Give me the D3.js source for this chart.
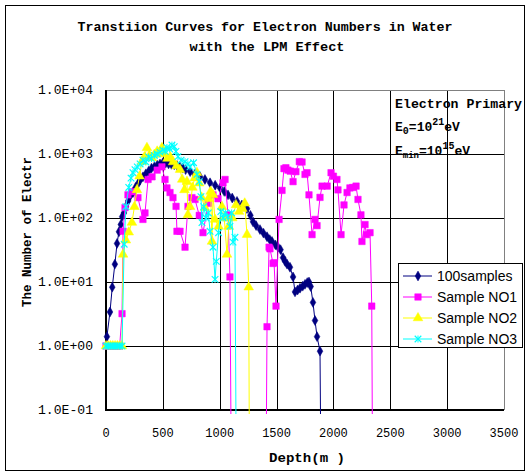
<!DOCTYPE html>
<html><head><meta charset="utf-8">
<script src="https://cdn.jsdelivr.net/npm/d3@7"></script>
<style>body{margin:0;background:#fff}svg{display:block}</style>
</head><body>
<svg id="c" width="526" height="473"></svg>
<script>
const titleLines = ["Transtiion Curves for Electron Numbers in Water", "with the LPM Effect"];
const xTicks = [0, 500, 1000, 1500, 2000, 2500, 3000, 3500];
const yTicks = [0.1, 1, 10, 100, 1000, 10000];
const yTickLabels = ["1.0E-01", "1.0E+00", "1.0E+01", "1.0E+02", "1.0E+03", "1.0E+04"];
const seriesNames = ["100samples", "Sample NO1", "Sample NO2", "Sample NO3"];

const depth100 = [8,35,55,78,97,114,130,142,158,175,195,215,237,260,280,300,325,350,375,400,425,450,475,500,525,550,575,600,625,650,675,700,740,780,827,870,915,960,1003,1040,1073,1110,1152,1195,1240,1270,1293,1320,1354,1385,1416,1440,1460,1490,1513,1535,1557,1575,1592,1618,1645,1662,1685,1706,1730,1750,1770,1785,1800,1820,1838,1856,1882,1900];
const val100 = [1.4,3.4,8.3,19,40,61,79,105,120,150,185,225,250,300,340,390,440,490,540,600,630,670,700,730,720,700,690,680,660,630,600,570,530,480,440,400,355,325,295,260,230,205,182,160,140,110,87,76,66,58,51,46,43,38,35,32,24,21,19,17,12,7,7.5,8,8.6,9.2,9.8,10,8.5,4.8,2.5,1.4,0.83,0];

const depthNO1 = [0,20,40,60,80,100,120,141,150,167,193,228,281,325,343,370,405,450,492,519,536,563,589,616,624,651,695,721,756,783,820,853,900,941,985,1029,1047,1073,1090,1110,1400,1416,1434,1442,1469,1478,1495,1522,1548,1565,1582,1600,1620,1645,1670,1700,1724,1750,1768,1785,1812,1838,1856,1882,1900,1945,1979,2000,2031,2040,2067,2093,2120,2145,2170,2199,2216,2242,2251,2278,2290,2322,2337,2350];
const valNO1 = [1,1,1,1,1,1,1,3.2,62,145,230,257,208,95,120,400,440,560,630,400,295,250,208,152,62,62,35,152,208,195,110,59,170,230,200,355,400,112,12,0,0,2.0,35,33,19.5,20,4.2,95,270,590,610,560,540,370,530,760,750,480,510,230,55,95,76,210,315,315,510,450,400,275,55,160,250,295,300,315,195,112,43,79,55,59,4.2,0];

const depthNO2 = [0,20,40,60,80,100,120,141,150,175,200,228,250,272,295,316,338,360,382,404,425,450,470,492,515,540,565,590,620,651,670,690,712,720,739,760,780,800,820,840,870,900,920,932,941,959,990,1020,1040,1064,1080,1110,1143,1170,1200,1220,1240,1255,1266];
const valNO2 = [1,1,1,1,1,1,1,1,27,45,60,85,150,275,450,760,900,1250,950,870,980,1100,1050,1250,1000,850,900,750,650,570,400,275,370,112,150,300,420,510,350,210,145,200,260,43,230,95,74,150,100,27,74,100,160,126,140,170,55,8.3,0];

const depthNO3 = [0,20,40,60,80,100,120,141,160,175,200,220,237,255,275,300,325,350,375,400,425,450,475,500,520,536,560,580,600,615,633,660,695,720,739,770,800,820,835,844,860,880,900,915,941,959,970,990,1010,1030,1050,1070,1090,1105,1117,1134,1152];
const valNO3 = [1,1,1,1,1,1,1,1,39,150,300,420,510,570,630,700,800,750,900,850,950,1000,1070,1150,1100,1260,1200,1380,1300,1100,910,800,760,700,630,730,480,370,215,85,150,100,120,62,35,11,21,59,126,100,120,105,74,120,42,50,0];

const svg = d3.select("#c");
const L = 106, R = 504, T = 90, B = 410;
const x = d3.scaleLinear().domain([0, 3500]).range([L, R]);
const y = d3.scaleLog().domain([0.1, 10000]).range([B, T]);
const yp = v => v > 0 ? y(v) : B + 200;

// outer frame
svg.append("rect").attr("x", 5.5).attr("y", 5.5).attr("width", 519).attr("height", 465)
  .attr("fill", "#fff").attr("stroke", "#000").attr("stroke-width", 1);

// title
const mono = "'Liberation Mono', 'Courier New', monospace";
svg.append("text").attr("x", 265).attr("y", 31).attr("text-anchor", "middle")
  .attr("font-family", mono).attr("font-weight", "bold").attr("font-size", 12)
  .attr("textLength", 375).attr("lengthAdjust", "spacingAndGlyphs").text(titleLines[0]);
svg.append("text").attr("x", 267).attr("y", 51).attr("text-anchor", "middle")
  .attr("font-family", mono).attr("font-weight", "bold").attr("font-size", 12)
  .attr("textLength", 155).attr("lengthAdjust", "spacingAndGlyphs").text(titleLines[1]);

// grid
const g = svg.append("g");
g.selectAll(".hg").data(yTicks.filter(v => v > 0.1 && v < 10000)).enter().append("line")
  .attr("x1", L).attr("x2", R).attr("y1", d => Math.round(y(d)) + 0.5).attr("y2", d => Math.round(y(d)) + 0.5)
  .attr("stroke", "#000").attr("stroke-width", 1);
g.selectAll(".vg").data(xTicks.filter(v => v > 0 && v < 3500)).enter().append("line")
  .attr("y1", T).attr("y2", B).attr("x1", d => Math.round(x(d)) + 0.5).attr("x2", d => Math.round(x(d)) + 0.5)
  .attr("stroke", "#000").attr("stroke-width", 1);
g.append("line").attr("x1", L).attr("x2", R).attr("y1", T + 0.5).attr("y2", T + 0.5).attr("stroke", "#808080");
g.append("line").attr("x1", R + 0.5).attr("x2", R + 0.5).attr("y1", T).attr("y2", B).attr("stroke", "#808080");

// axes lines
svg.append("line").attr("x1", L).attr("x2", L).attr("y1", T).attr("y2", B + 1).attr("stroke", "#000").attr("stroke-width", 2);
svg.append("line").attr("x1", L - 1).attr("x2", R).attr("y1", B).attr("y2", B).attr("stroke", "#000").attr("stroke-width", 2);

// tick labels
svg.selectAll(".yl").data(yTicks).enter().append("text")
  .attr("x", 93).attr("y", d => y(d) + 4).attr("text-anchor", "end")
  .attr("font-family", mono).attr("font-size", 12)
  .attr("textLength", 55).attr("lengthAdjust", "spacingAndGlyphs")
  .text((d, i) => yTickLabels[i]);
svg.selectAll(".xl").data(xTicks).enter().append("text")
  .attr("x", d => x(d)).attr("y", 437).attr("text-anchor", "middle")
  .attr("font-family", mono).attr("font-size", 12)
  .text(d => String(d));

// axis titles
svg.append("text").attr("x", 307).attr("y", 462).attr("text-anchor", "middle")
  .attr("font-family", mono).attr("font-weight", "bold").attr("font-size", 12)
  .attr("textLength", 76).attr("lengthAdjust", "spacingAndGlyphs").text("Depth(m )");
svg.append("text").attr("transform", "translate(31,232) rotate(-90)").attr("text-anchor", "middle")
  .attr("font-family", mono).attr("font-weight", "bold").attr("font-size", 12)
  .attr("textLength", 150).attr("lengthAdjust", "spacingAndGlyphs").text("The Number of Electr");

// annotation
const ann = svg.append("g").attr("font-family", mono).attr("font-weight", "bold").attr("font-size", 13);
ann.append("text").attr("x", 395).attr("y", 108).attr("font-size", 12).attr("textLength", 127).attr("lengthAdjust", "spacingAndGlyphs").text("Electron Primary");
const t2 = ann.append("text").attr("x", 395).attr("y", 131);
t2.append("tspan").text("E");
t2.append("tspan").attr("font-size", 10).attr("dy", 3).text("0");
t2.append("tspan").attr("dy", -3).text("=10");
t2.append("tspan").attr("font-size", 10).attr("dy", -6).text("21");
t2.append("tspan").attr("dy", 6).text("eV");
const t3 = ann.append("text").attr("x", 395).attr("y", 155);
t3.append("tspan").text("E");
t3.append("tspan").attr("font-size", 9).attr("dy", 3).text("min");
t3.append("tspan").attr("dy", -3).text("=10");
t3.append("tspan").attr("font-size", 10).attr("dy", -6).text("15");
t3.append("tspan").attr("dy", 6).text("eV");

// series
svg.append("clipPath").attr("id", "clip").append("rect").attr("x", L - 6).attr("y", T - 8).attr("width", R - L + 12).attr("height", B - T + 12);
const plot = svg.append("g").attr("clip-path", "url(#clip)");

const series = [
  {name: seriesNames[0], d: depth100, v: val100, color: "#000080", sym: d3.symbolDiamond, size: 28, cross: false},
  {name: seriesNames[1], d: depthNO1, v: valNO1, color: "#FF00FF", sym: d3.symbolSquare, size: 42, cross: false},
  {name: seriesNames[2], d: depthNO2, v: valNO2, color: "#FFFF00", sym: d3.symbolTriangle, size: 40, cross: false},
  {name: seriesNames[3], d: depthNO3, v: valNO3, color: "#00FFFF", sym: d3.symbolX, size: 30, cross: true}
];
const line = d3.line().x(p => x(p[0])).y(p => yp(p[1]));

function marker(sel, s) {
  const path = d3.symbol().type(s.sym).size(s.size)();
  if (s.cross) {
    sel.append("path").attr("d", path).attr("fill", "none").attr("stroke", s.color).attr("stroke-width", 1.2);
    sel.append("line").attr("x1", 0).attr("x2", 0).attr("y1", -3.5).attr("y2", 3.5).attr("stroke", s.color).attr("stroke-width", 1);
  } else {
    sel.append("path").attr("d", path).attr("fill", s.color).attr("stroke", s.color).attr("stroke-width", 0.5);
  }
}

series.forEach(s => {
  const pts = s.d.map((d, i) => [d, s.v[i]]);
  plot.append("path").attr("d", line(pts)).attr("fill", "none").attr("stroke", s.color).attr("stroke-width", 1);
  const gm = plot.selectAll(null).data(pts.filter(p => p[1] > 0)).enter().append("g")
    .attr("transform", p => `translate(${x(p[0])},${y(p[1])})`);
  gm.each(function () { marker(d3.select(this), s); });
});

// legend
const lg = svg.append("g");
lg.append("rect").attr("x", 398.5).attr("y", 263.5).attr("width", 124).attr("height", 84)
  .attr("fill", "#fff").attr("stroke", "#000").attr("stroke-width", 1);
series.forEach((s, i) => {
  const cy = 276 + i * 21;
  lg.append("line").attr("x1", 403).attr("x2", 432).attr("y1", cy).attr("y2", cy).attr("stroke", s.color).attr("stroke-width", 1);
  const m = lg.append("g").attr("transform", `translate(418,${cy})`);
  marker(m, s);
  lg.append("text").attr("x", 437).attr("y", cy + 5).attr("font-family", "'Liberation Sans', Arial, sans-serif")
    .attr("font-size", 14).text(s.name);
});
</script>
</body></html>
